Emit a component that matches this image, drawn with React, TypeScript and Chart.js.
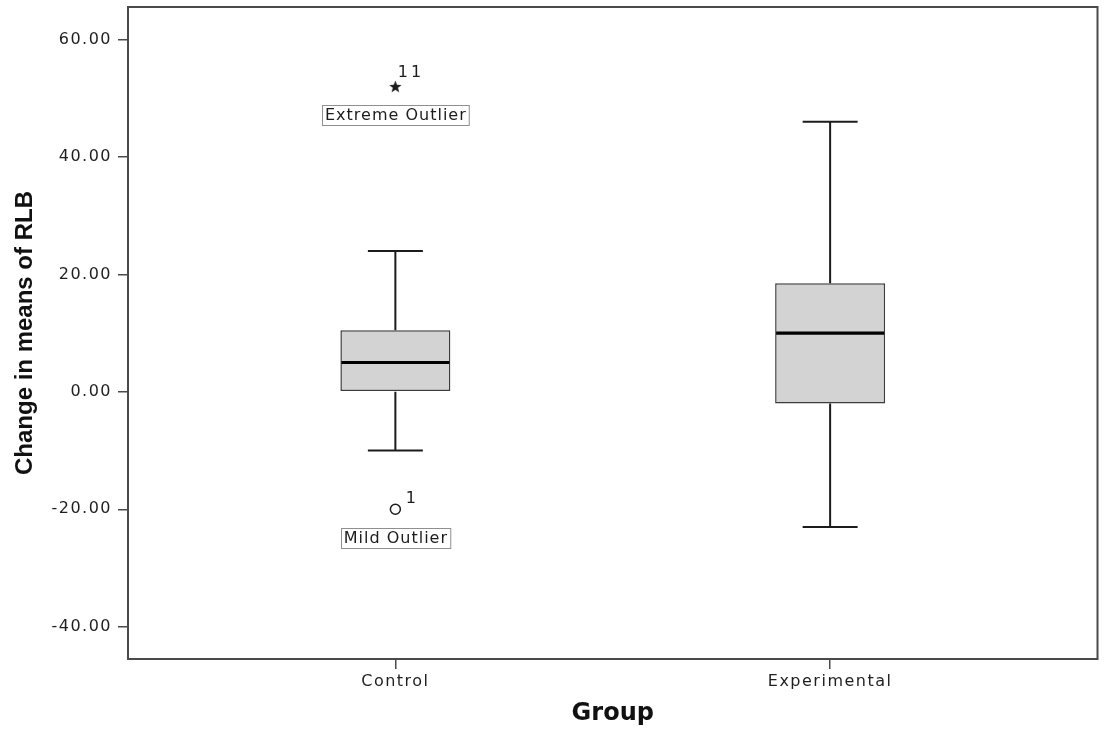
import React, { useEffect, useRef } from 'react';
import { Chart, registerables } from 'chart.js';

Chart.register(...registerables);

// ---------- data ----------
const categories = ['Control', 'Experimental'];
const whiskerLow = [-10, -23];
const quartile1 = [0, -2];
const medians = [5, 10];
const quartile3 = [10.5, 18.5];
const whiskerHigh = [24, 46];

const outlierGroup = [0, 0];
const outlierValue = [-20, 52];
const outlierCase = ['1', '11'];
const outlierKind = ['mild', 'extreme'];
const outlierNote = ['Mild Outlier', 'Extreme Outlier'];

const yTickValues = [-40, -20, 0, 20, 40, 60];
const yTitle = 'Change in means of RLB';
const xTitle = 'Group';

// ---------- styles ----------
const INK = '#1c1c1c';
const FRAME = '#4a4a4a';
const TICK_COLOR = '#1f1f1f';
const TICK_FONT = { family: 'DejaVu Sans', size: 16 };
const TICK_SPACING = '1.5px';
const NOTE_STYLE: Record<string, { idDx: number; idDy: number; noteDy: number }> = {
  mild: { idDx: 10.5, idDy: -6.6, noteDy: 29 },
  extreme: { idDx: 2.5, idDy: -9.6, noteDy: 28 },
};

function makeStar(): HTMLCanvasElement {
  const c = document.createElement('canvas');
  c.width = 15;
  c.height = 15;
  const g = c.getContext('2d') as CanvasRenderingContext2D;
  g.fillStyle = INK;
  g.beginPath();
  for (let k = 0; k < 10; k++) {
    const r = k % 2 === 0 ? 6.5 : 2.7;
    const a = -Math.PI / 2 + (k * Math.PI) / 5;
    const px = 7.5 + r * Math.cos(a);
    const py = 8 + r * Math.sin(a);
    if (k === 0) g.moveTo(px, py);
    else g.lineTo(px, py);
  }
  g.closePath();
  g.fill();
  return c;
}

const boxPartsPlugin = {
  id: 'boxParts',
  beforeDraw(chart: any) {
    chart.ctx.letterSpacing = '0px';
  },
  afterDatasetsDraw(chart: any) {
    const ctx = chart.ctx;
    const xs = chart.scales.x;
    const ys = chart.scales.y;
    const meta = chart.getDatasetMeta(0);
    ctx.save();
    categories.forEach((_, i) => {
      const bar = meta.data[i];
      const cx = xs.getPixelForValue(i + 1);
      const half = bar.width / 2;
      const capHalf = half / 2;
      const yLow = ys.getPixelForValue(whiskerLow[i]);
      const yQ1 = ys.getPixelForValue(quartile1[i]);
      const yMed = ys.getPixelForValue(medians[i]);
      const yQ3 = ys.getPixelForValue(quartile3[i]);
      const yHigh = ys.getPixelForValue(whiskerHigh[i]);
      ctx.strokeStyle = INK;
      ctx.lineWidth = 2;
      ctx.lineCap = 'butt';
      ctx.beginPath();
      ctx.moveTo(cx, yQ3);
      ctx.lineTo(cx, yHigh);
      ctx.moveTo(cx - capHalf, yHigh);
      ctx.lineTo(cx + capHalf, yHigh);
      ctx.moveTo(cx, yQ1);
      ctx.lineTo(cx, yLow);
      ctx.moveTo(cx - capHalf, yLow);
      ctx.lineTo(cx + capHalf, yLow);
      ctx.stroke();
      ctx.strokeStyle = '#000';
      ctx.lineWidth = 3.2;
      ctx.beginPath();
      ctx.moveTo(cx - half + 1, yMed);
      ctx.lineTo(cx + half - 1, yMed);
      ctx.stroke();
    });
    ctx.restore();
    // tick labels (z = 1) are drawn after datasets: give them the wide tracking
    ctx.letterSpacing = TICK_SPACING;
  },
  afterDraw(chart: any) {
    const ctx = chart.ctx;
    ctx.letterSpacing = '0px';
    const { left, top, right, bottom } = chart.chartArea;
    ctx.save();
    ctx.strokeStyle = FRAME;
    ctx.lineWidth = 2;
    ctx.strokeRect(left, top, right - left, bottom - top);
    ctx.restore();

    const meta = chart.getDatasetMeta(1);
    outlierValue.forEach((_, i) => {
      const pt = meta.data[i];
      const st = NOTE_STYLE[outlierKind[i]];
      ctx.save();
      ctx.fillStyle = INK;
      ctx.font = '16px "DejaVu Sans"';
      ctx.letterSpacing = '3px';
      ctx.textAlign = 'left';
      ctx.textBaseline = 'alphabetic';
      ctx.fillText(outlierCase[i], pt.x + st.idDx, pt.y + st.idDy);

      ctx.font = '16px "DejaVu Sans"';
      ctx.letterSpacing = '1px';
      const w = ctx.measureText(outlierNote[i]).width;
      const cy = pt.y + st.noteDy;
      const bw = w + 5;
      const bh = 20;
      const bx = Math.round(pt.x - bw / 2) + 0.5;
      const by = Math.round(cy - bh / 2) + 0.5;
      ctx.fillStyle = '#ffffff';
      ctx.fillRect(bx, by, bw, bh);
      ctx.strokeStyle = '#8f8f8f';
      ctx.lineWidth = 1;
      ctx.strokeRect(bx, by, bw, bh);
      ctx.fillStyle = INK;
      ctx.textAlign = 'center';
      ctx.textBaseline = 'middle';
      ctx.fillText(outlierNote[i], pt.x + 0.5, cy + 1);
      ctx.restore();
    });
  },
};

export default function App() {
  const canvasRef = useRef<HTMLCanvasElement | null>(null);

  useEffect(() => {
    document.body.style.margin = '0';
    const canvas = canvasRef.current;
    if (!canvas) return;
    Chart.defaults.font.family = 'DejaVu Sans';
    const star = makeStar();

    const gridOpts = {
      display: true,
      drawOnChartArea: false,
      drawTicks: true,
      tickLength: 10,
      offset: false,
      color: FRAME,
      lineWidth: 1.5,
    };

    const chart = new Chart(canvas, {
      type: 'bar',
      data: {
        datasets: [
          {
            type: 'bar',
            label: 'Interquartile range',
            data: categories.map((_, i) => ({ x: i + 1, y: [quartile1[i], quartile3[i]] })) as any,
            backgroundColor: '#d3d3d3',
            borderColor: '#3c3c3c',
            borderWidth: 1.5,
            borderSkipped: false,
            categoryPercentage: 1,
            barPercentage: 0.253,
          } as any,
          {
            type: 'scatter',
            label: 'Outliers',
            data: outlierValue.map((v, i) => ({ x: outlierGroup[i] + 1, y: v })),
            pointStyle: (c: any) => (outlierKind[c.dataIndex] === 'extreme' ? star : 'circle'),
            pointRadius: 5,
            borderWidth: 1.5,
            borderColor: INK,
            backgroundColor: 'rgba(0,0,0,0)',
          } as any,
        ],
      },
      options: {
        animation: false,
        responsive: false,
        maintainAspectRatio: false,
        layout: { padding: { top: 7, right: 6, left: 0, bottom: 0 } },
        plugins: {
          legend: { display: false },
          tooltip: { enabled: false },
        },
        scales: {
          x: {
            type: 'linear',
            position: 'bottom',
            min: 0.385,
            max: 2.615,
            offset: false,
            afterBuildTicks: (s: any) => {
              s.ticks = categories.map((_, i) => ({ value: i + 1 }));
            },
            afterFit: (s: any) => {
              s.height = 73;
              s.paddingLeft = 0;
              s.paddingRight = 0;
            },
            grid: gridOpts,
            border: { display: false },
            ticks: {
              z: 1,
              padding: 3,
              color: TICK_COLOR,
              font: TICK_FONT,
              maxRotation: 0,
              autoSkip: false,
              callback: (v: any) => categories[Math.round(Number(v)) - 1] ?? '',
            },
            title: {
              display: true,
              text: xTitle,
              color: '#111',
              font: { family: 'DejaVu Sans', size: 24, weight: 'bold' },
              padding: { top: 0, bottom: 4 },
            },
          },
          y: {
            type: 'linear',
            min: -45.5,
            max: 65.55,
            afterBuildTicks: (s: any) => {
              s.ticks = yTickValues.map((v) => ({ value: v }));
            },
            afterFit: (s: any) => {
              s.width = 128;
              s.paddingTop = 0;
              s.paddingBottom = 0;
            },
            grid: gridOpts,
            border: { display: false },
            ticks: {
              z: 1,
              padding: 6,
              color: TICK_COLOR,
              font: TICK_FONT,
              callback: (v: any) => Number(v).toFixed(2),
            },
            title: {
              display: true,
              text: yTitle,
              color: '#111',
              font: { family: 'Liberation Sans', size: 24, weight: 'bold' },
              padding: { top: 11, bottom: 0 },
            },
          },
        },
      } as any,
      plugins: [boxPartsPlugin],
    });

    return () => {
      chart.destroy();
    };
  }, []);

  return (
    <div style={{ width: 1104, height: 732, background: '#ffffff' }}>
      <canvas ref={canvasRef} width={1104} height={732} style={{ display: 'block' }} />
    </div>
  );
}
